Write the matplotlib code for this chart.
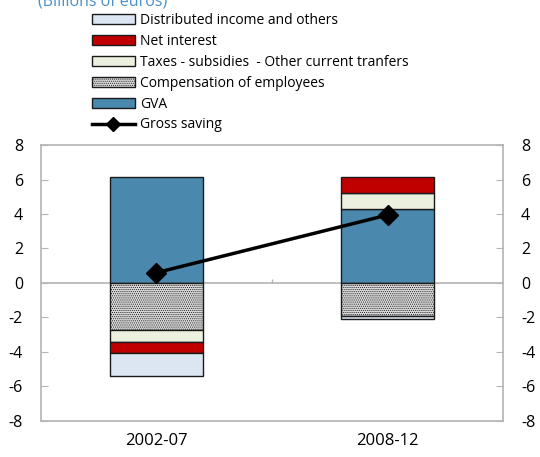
import matplotlib.pyplot as plt
from matplotlib.patches import Patch
from matplotlib.lines import Line2D

plt.rcParams['font.family'] = ['Open Sans', 'DejaVu Sans']
plt.rcParams['axes.unicode_minus'] = False
plt.rcParams['hatch.color'] = '#b4b4b4'
plt.rcParams['hatch.linewidth'] = 0.5

# Data (billions of euros)
periods = ['2002-07', '2008-12']
gva = [6.14, 4.30]
compensation = [-2.75, -1.91]
taxes = [-0.67, 0.93]
net_interest = [-0.66, 0.90]
distributed = [-1.33, -0.20]
gross_saving = [0.60, 3.94]

series = [
    ('GVA', gva, '#4a89ad', None),
    ('Compensation of employees', compensation, '#dadada', '........'),
    ('Taxes - subsidies  - Other current tranfers', taxes, '#ebf1de', None),
    ('Net interest', net_interest, '#c00000', None),
    ('Distributed income and others', distributed, '#dce6f2', None),
]

grid_col = '#b4b4b4'

fig = plt.figure(figsize=(5.4, 4.57), dpi=100)
ax = fig.add_axes([0.0759, 0.0788, 0.8556, 0.6039])

x = list(range(len(periods)))
pos_base = [0.0] * len(x)
neg_base = [0.0] * len(x)
handles = {}
for name, vals, col, hatch in series:
    for i, v in enumerate(vals):
        if v >= 0:
            b = pos_base[i]
            pos_base[i] += v
        else:
            b = neg_base[i]
            neg_base[i] += v
        ax.bar(x[i], v, 0.4, bottom=b, color=col, edgecolor='#1a1a1a',
               linewidth=1.0, hatch=hatch, zorder=2)
    handles[name] = Patch(facecolor=col, edgecolor='#1a1a1a', linewidth=1.0, hatch=hatch)

ax.plot(x, gross_saving, color='black', lw=2.5, marker='D', markersize=10, zorder=4)

ax.axhline(0, color=grid_col, lw=1.2, zorder=1)
ax.vlines(0.5, 0, 0.25, color=grid_col, lw=1.0, zorder=1)

ax.set_xlim(-0.5, 1.5)
ax.set_ylim(-8, 8)
ax.set_yticks(range(-8, 9, 2))
ax.set_xticks(x)
ax.set_xticklabels(periods)
ax.tick_params(axis='x', length=0, pad=9, labelsize=12)
ax.tick_params(axis='y', direction='in', length=5, color=grid_col, pad=13, labelsize=11.5)
for s in ax.spines.values():
    s.set_color(grid_col)
    s.set_linewidth(1.2)

ax2 = ax.twinx()
ax2.set_ylim(-8, 8)
ax2.set_yticks(range(-8, 9, 2))
ax2.tick_params(axis='y', direction='in', length=5, color=grid_col, pad=13, labelsize=11.5)
for s in ax2.spines.values():
    s.set_visible(False)

fig.text(0.07, 0.996, '(Billions of euros)', color='#4a8fc8', fontsize=11.5,
         ha='left', va='center')

order = ['Distributed income and others', 'Net interest',
         'Taxes - subsidies  - Other current tranfers',
         'Compensation of employees', 'GVA']
leg_handles = [handles[n] for n in order]
leg_handles.append(Line2D([0], [0], color='black', lw=2.5, marker='D', markersize=7))
labels = order + ['Gross saving']
fig.legend(leg_handles, labels, loc='upper left', bbox_to_anchor=(0.17, 0.971),
           frameon=False, fontsize=10, handlelength=3.1, handleheight=0.72,
           labelspacing=0.42, handletextpad=0.35, borderpad=0, borderaxespad=0)

fig.savefig('out.png', dpi=100)
